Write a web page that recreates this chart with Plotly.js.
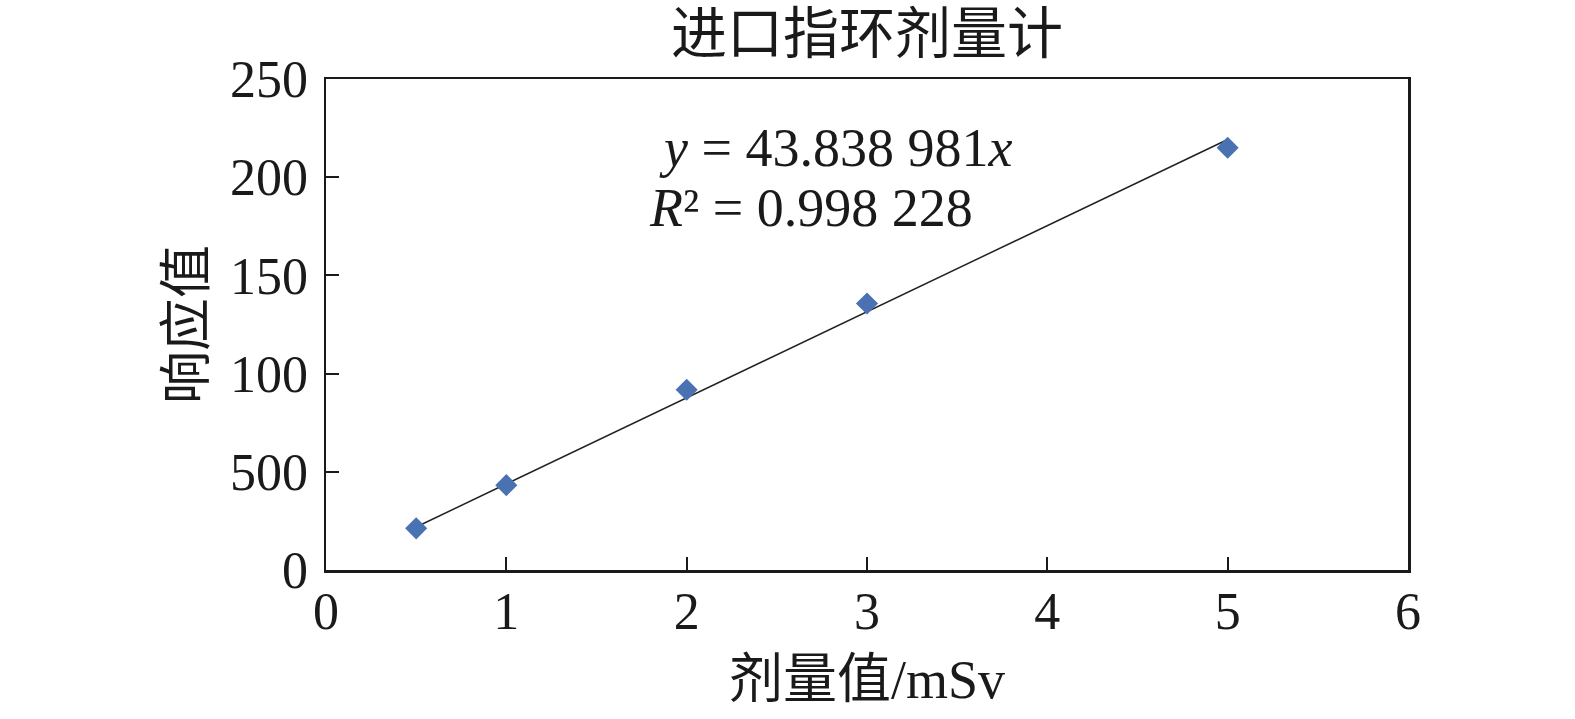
<!DOCTYPE html>
<html>
<head>
<meta charset="utf-8">
<script src="https://cdn.plot.ly/plotly-3.0.1.min.js"></script>
<style>html,body{margin:0;padding:0;background:#fff;}#chart{width:1575px;height:719px;}</style>
</head>
<body>
<div id="chart"></div>
<script>
const doseX = [0.5, 1, 2, 3, 5];
const responseY = [21.2, 43.2, 91.8, 135.7, 215.0];
const trendX = [0.5, 5];
const trendY = [21.9, 219.2];
const yTickVals = [0, 50, 100, 150, 200, 250];
const yTickText = ['0', '500', '100', '150', '200', '250'];
const xTickVals = [0, 1, 2, 3, 4, 5, 6];
const titleText = '进口指环剂量计';
const xTitle = '剂量值/mSv';
const yTitle = '响应值';
const eqLine1 = '<i>y</i> = 43.838 981<i>x</i>';
const eqLine2 = '<i>R</i>² = 0.998 228';

const serif = '"Liberation Serif", "Times New Roman", "Noto Sans CJK SC", serif';
const cjk = '"Liberation Serif", "Noto Sans CJK SC", serif';

const traces = [
  {
    x: trendX, y: trendY, type: 'scatter', mode: 'lines',
    line: {color: '#222222', width: 1.5}, hoverinfo: 'skip', showlegend: false
  },
  {
    x: doseX, y: responseY, type: 'scatter', mode: 'markers',
    marker: {symbol: 'diamond', size: 17, color: '#4a72b2'}, showlegend: false
  }
];

const layout = {
  width: 1575, height: 719,
  margin: {l: 326, r: 167, t: 79, b: 149},
  paper_bgcolor: '#ffffff', plot_bgcolor: '#ffffff',
  title: {text: titleText, font: {family: cjk, size: 56, color: '#1a1a1a'},
          x: 0.5, xanchor: 'center', y: 0.953, yanchor: 'middle', xref: 'paper'},
  xaxis: {
    range: [0, 6], tickvals: xTickVals, ticks: 'inside', ticklen: 13, tickwidth: 2,
    tickcolor: '#1a1a1a', showline: true, linewidth: 2.5, linecolor: '#1a1a1a', mirror: true,
    showgrid: false, zeroline: false, ticklabelstandoff: -6,
    tickfont: {family: serif, size: 52, color: '#1a1a1a'},
    title: {text: xTitle, font: {family: cjk, size: 54, color: '#1a1a1a'}, standoff: 22}
  },
  yaxis: {
    range: [0, 250], tickvals: yTickVals, ticktext: yTickText, ticks: 'inside', ticklen: 13, tickwidth: 2,
    tickcolor: '#1a1a1a', showline: true, linewidth: 2.5, linecolor: '#1a1a1a', mirror: true,
    showgrid: false, zeroline: false, ticklabelstandoff: 5,
    tickfont: {family: serif, size: 52, color: '#1a1a1a'},
    title: {text: yTitle, font: {family: cjk, size: 53, color: '#1a1a1a'}, standoff: 8}
  },
  annotations: [
    {text: eqLine1, xref: 'paper', yref: 'paper', x: 0.306, y: 0.86, xanchor: 'left', yanchor: 'middle',
     showarrow: false, font: {family: serif, size: 54, color: '#1a1a1a'}},
    {text: eqLine2, xref: 'paper', yref: 'paper', x: 0.297, y: 0.738, xanchor: 'left', yanchor: 'middle',
     showarrow: false, font: {family: serif, size: 54, color: '#1a1a1a'}}
  ]
};

Plotly.newPlot('chart', traces, layout, {displayModeBar: false, staticPlot: true});
</script>
</body>
</html>
